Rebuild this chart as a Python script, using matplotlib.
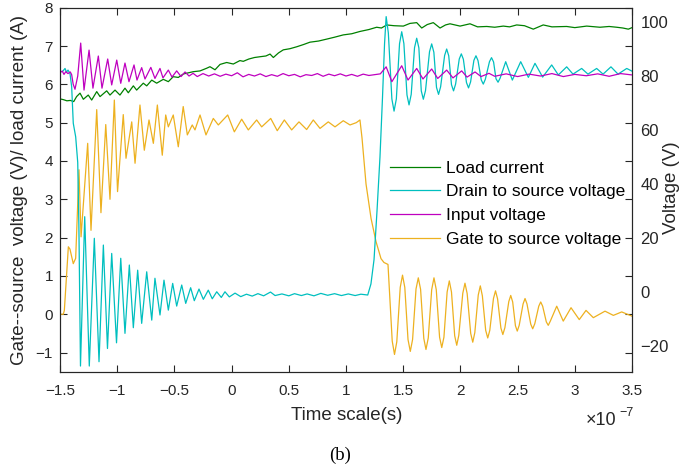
import numpy as np
import matplotlib
matplotlib.use('Agg')
import matplotlib.pyplot as plt

# time is in units of 1e-7 s
# load current (A), left axis
load_current = [
    (-1.500, 5.62), (-1.470, 5.60), (-1.440, 5.57), (-1.410, 5.58), (-1.380, 5.55),
    (-1.355, 5.68), (-1.325, 5.77), (-1.296, 5.61), (-1.253, 5.72), (-1.223, 5.59),
    (-1.179, 5.81), (-1.150, 5.68), (-1.092, 5.83), (-1.063, 5.72), (-1.019, 5.85),
    (-0.976, 5.72), (-0.932, 5.90), (-0.903, 5.78), (-0.859, 5.96), (-0.830, 5.85),
    (-0.772, 6.03), (-0.742, 5.96), (-0.698, 6.11), (-0.655, 6.03), (-0.597, 6.13),
    (-0.553, 6.07), (-0.510, 6.20), (-0.466, 6.18), (-0.422, 6.27), (-0.335, 6.33),
    (-0.276, 6.35), (-0.218, 6.42), (-0.189, 6.46), (-0.145, 6.38), (-0.101, 6.52),
    (-0.043, 6.57), (0.015, 6.53), (0.073, 6.62), (0.102, 6.60), (0.150, 6.66),
    (0.200, 6.70), (0.248, 6.72), (0.300, 6.74), (0.336, 6.79), (0.365, 6.70),
    (0.410, 6.82), (0.452, 6.90), (0.510, 6.93), (0.569, 6.98), (0.630, 7.04),
    (0.685, 7.10), (0.760, 7.13), (0.831, 7.18), (0.900, 7.23), (0.976, 7.29),
    (1.050, 7.32), (1.122, 7.38), (1.200, 7.43), (1.268, 7.49), (1.310, 7.47),
    (1.356, 7.55), (1.420, 7.53), (1.501, 7.52), (1.559, 7.59), (1.618, 7.61),
    (1.662, 7.47), (1.710, 7.56), (1.763, 7.61), (1.822, 7.47), (1.870, 7.55),
    (1.909, 7.58), (1.997, 7.52), (2.084, 7.58), (2.150, 7.50), (2.230, 7.51),
    (2.300, 7.49), (2.375, 7.52), (2.430, 7.50), (2.492, 7.55), (2.560, 7.53),
    (2.637, 7.44), (2.724, 7.55), (2.800, 7.50), (2.929, 7.51), (3.000, 7.48),
    (3.104, 7.52), (3.220, 7.49), (3.300, 7.51), (3.366, 7.49), (3.420, 7.47),
    (3.468, 7.44), (3.500, 7.48),
]

# drain to source voltage (V), right axis
drain_voltage = [
    (-1.500, 81.5), (-1.475, 81.8), (-1.456, 82.8), (-1.443, 81.4), (-1.430, 82.2),
    (-1.413, 81.0), (-1.398, 76.0), (-1.384, 62.5), (-1.363, 57.5), (-1.345, 48.0),
    (-1.335, 25.0), (-1.321, -27.4), (-1.284, 27.9), (-1.244, -27.4), (-1.200, 19.9),
    (-1.159, -25.8), (-1.121, 17.4), (-1.085, -20.9), (-1.048, 14.3), (-1.006, -18.8),
    (-0.969, 12.5), (-0.932, -15.3), (-0.894, 10.0), (-0.859, -13.2), (-0.821, 8.1),
    (-0.786, -11.6), (-0.742, 7.5), (-0.698, -10.4), (-0.670, 5.1), (-0.626, -8.5),
    (-0.591, 4.4), (-0.553, -6.7), (-0.515, 3.2), (-0.480, -5.2), (-0.436, 2.6),
    (-0.401, -4.2), (-0.358, 1.6), (-0.326, -3.2), (-0.285, 1.1), (-0.247, -2.7),
    (-0.204, 0.7), (-0.169, -2.5), (-0.130, 0.1), (-0.090, -2.0), (-0.058, 0.1),
    (-0.020, -1.8), (0.030, -0.4), (0.080, -1.7), (0.130, -0.8), (0.180, -1.5),
    (0.230, -0.6), (0.280, -1.4), (0.340, 0.0), (0.380, -1.3), (0.440, -0.7),
    (0.500, -1.4), (0.550, -0.6), (0.610, -1.3), (0.660, -0.7), (0.720, -1.4),
    (0.780, -0.5), (0.840, -1.2), (0.900, -0.6), (0.960, -1.3), (1.020, -0.7),
    (1.080, -1.3), (1.130, -0.8), (1.190, -1.1), (1.218, 3.0), (1.245, 12.0),
    (1.271, 30.0), (1.297, 50.0), (1.319, 72.0), (1.337, 92.0), (1.351, 102.0),
    (1.370, 96.0), (1.401, 71.5), (1.420, 67.0), (1.440, 71.5), (1.468, 92.0),
    (1.487, 96.4), (1.506, 92.0), (1.533, 73.0), (1.551, 69.3), (1.570, 73.2),
    (1.599, 90.5), (1.618, 94.0), (1.637, 90.4), (1.658, 74.5), (1.676, 71.4),
    (1.695, 74.6), (1.730, 89.0), (1.749, 91.9), (1.768, 88.8), (1.791, 75.8),
    (1.809, 73.2), (1.827, 76.0), (1.862, 87.6), (1.880, 90.0), (1.898, 87.5),
    (1.922, 76.8), (1.940, 74.5), (1.958, 77.0), (1.990, 86.3), (2.008, 88.2),
    (2.026, 86.2), (2.053, 77.6), (2.071, 75.6), (2.089, 77.8), (2.118, 85.8),
    (2.136, 87.5), (2.154, 85.7), (2.182, 78.6), (2.200, 77.0), (2.218, 78.8),
    (2.254, 85.3), (2.272, 86.8), (2.290, 85.2), (2.311, 79.0), (2.329, 77.7),
    (2.347, 79.2), (2.396, 85.3), (2.454, 78.5), (2.527, 85.3), (2.594, 79.5),
    (2.652, 84.7), (2.719, 79.6), (2.798, 84.1), (2.856, 80.4), (2.929, 83.4),
    (2.984, 80.7), (3.060, 82.8), (3.115, 80.7), (3.191, 82.8), (3.247, 80.7),
    (3.316, 83.4), (3.378, 80.7), (3.454, 82.8), (3.500, 81.8),
]

# input voltage (V), right axis
input_voltage = [
    (-1.500, 81.3), (-1.480, 81.8), (-1.465, 80.6), (-1.450, 81.6), (-1.430, 80.9),
    (-1.410, 81.5), (-1.398, 80.5), (-1.385, 77.0), (-1.369, 75.1), (-1.345, 80.0),
    (-1.319, 92.2), (-1.290, 74.8), (-1.246, 89.6), (-1.212, 75.5), (-1.165, 87.4),
    (-1.133, 75.5), (-1.083, 86.3), (-1.048, 76.7), (-1.004, 85.9), (-0.969, 77.3),
    (-0.932, 84.8), (-0.897, 77.9), (-0.853, 84.1), (-0.827, 78.5), (-0.786, 83.1),
    (-0.757, 78.9), (-0.706, 83.2), (-0.670, 79.1), (-0.626, 82.8), (-0.600, 79.3),
    (-0.553, 82.2), (-0.521, 79.6), (-0.480, 81.9), (-0.442, 79.8), (-0.407, 81.5),
    (-0.372, 80.0), (-0.337, 81.0), (-0.300, 79.8), (-0.250, 80.9), (-0.200, 80.0),
    (-0.150, 80.8), (-0.100, 79.9), (-0.050, 80.7), (0.000, 80.1), (0.050, 81.2),
    (0.100, 79.7), (0.150, 80.6), (0.200, 80.0), (0.250, 80.8), (0.300, 79.8),
    (0.350, 80.5), (0.400, 79.9), (0.450, 80.9), (0.500, 80.1), (0.550, 80.6),
    (0.600, 79.7), (0.650, 80.5), (0.700, 80.2), (0.750, 80.9), (0.800, 79.9),
    (0.850, 80.7), (0.900, 80.1), (0.950, 80.8), (1.000, 80.0), (1.050, 80.6),
    (1.100, 79.9), (1.150, 80.7), (1.200, 80.2), (1.250, 80.5), (1.300, 80.8),
    (1.351, 83.4), (1.401, 77.9), (1.487, 83.8), (1.542, 78.5), (1.618, 82.8),
    (1.673, 78.9), (1.749, 82.6), (1.802, 79.1), (1.880, 82.2), (1.935, 79.3),
    (2.011, 81.9), (2.058, 79.6), (2.128, 81.5), (2.180, 79.8), (2.250, 81.0),
    (2.300, 79.9), (2.400, 80.8), (2.500, 79.8), (2.600, 80.7), (2.700, 80.0),
    (2.800, 80.9), (2.900, 79.8), (3.000, 80.6), (3.100, 80.1), (3.200, 80.8),
    (3.300, 79.9), (3.400, 80.9), (3.500, 80.4),
]

# gate to source voltage (V), left axis
gate_voltage = [
    (-1.500, 0.00), (-1.471, 0.00), (-1.462, 0.10), (-1.427, 1.76), (-1.413, 1.70),
    (-1.384, 1.32), (-1.363, 1.46), (-1.334, 3.77), (-1.316, 2.02), (-1.258, 4.46),
    (-1.229, 2.19), (-1.179, 5.34), (-1.142, 2.65), (-1.100, 4.95), (-1.063, 3.00),
    (-1.025, 5.59), (-0.997, 3.20), (-0.947, 5.21), (-0.923, 4.07), (-0.873, 5.02),
    (-0.844, 3.94), (-0.801, 5.46), (-0.763, 4.28), (-0.722, 5.07), (-0.684, 4.46),
    (-0.649, 5.46), (-0.606, 4.15), (-0.576, 5.20), (-0.553, 4.89), (-0.510, 5.20),
    (-0.466, 4.37), (-0.423, 5.42), (-0.387, 4.68), (-0.344, 4.94), (-0.320, 4.81),
    (-0.276, 5.20), (-0.224, 4.68), (-0.160, 5.11), (-0.116, 4.94), (-0.034, 5.20),
    (0.024, 4.76), (0.088, 5.09), (0.146, 4.81), (0.219, 5.07), (0.263, 4.89),
    (0.342, 5.11), (0.399, 4.79), (0.461, 5.07), (0.525, 4.81), (0.589, 5.02),
    (0.656, 4.82), (0.714, 5.07), (0.773, 4.85), (0.845, 5.02), (0.904, 4.89),
    (0.976, 5.05), (1.035, 4.94), (1.090, 5.00), (1.122, 5.07), (1.140, 4.60),
    (1.175, 3.40), (1.219, 2.50), (1.262, 1.90), (1.306, 1.45), (1.332, 1.35),
    (1.367, 1.30), (1.404, -0.70), (1.424, -1.05), (1.444, -0.72), (1.474, 0.70),
    (1.494, 1.02), (1.514, 0.70), (1.542, -0.66), (1.562, -0.97), (1.582, -0.66),
    (1.612, 0.66), (1.632, 0.95), (1.652, 0.65), (1.680, -0.63), (1.699, -0.92),
    (1.719, -0.62), (1.749, 0.64), (1.769, 0.95), (1.789, 0.64), (1.818, -0.60),
    (1.837, -0.87), (1.856, -0.60), (1.884, 0.58), (1.903, 0.87), (1.922, 0.58),
    (1.950, -0.56), (1.968, -0.81), (1.986, -0.55), (2.021, 0.55), (2.040, 0.81),
    (2.059, 0.54), (2.090, -0.50), (2.108, -0.73), (2.126, -0.48), (2.156, 0.50),
    (2.174, 0.74), (2.192, 0.48), (2.221, -0.42), (2.239, -0.62), (2.257, -0.42),
    (2.289, 0.41), (2.307, 0.61), (2.325, 0.40), (2.354, -0.36), (2.371, -0.53),
    (2.389, -0.35), (2.423, 0.33), (2.440, 0.49), (2.457, 0.32), (2.481, -0.30),
    (2.497, -0.44), (2.514, -0.29), (2.548, 0.27), (2.565, 0.41), (2.582, 0.27),
    (2.615, -0.26), (2.632, -0.38), (2.650, -0.25), (2.685, 0.21), (2.702, 0.32),
    (2.719, 0.21), (2.751, -0.20), (2.768, -0.29), (2.786, -0.18), (2.842, 0.21),
    (2.899, -0.18), (2.967, 0.17), (3.039, -0.14), (3.098, 0.10), (3.162, -0.09),
    (3.264, 0.08), (3.337, -0.03), (3.410, 0.06), (3.500, -0.05),
]

series_labels = ['Load current', 'Drain to source voltage', 'Input voltage',
                 'Gate to source voltage']
series_colors = ['#008000', '#00BFBF', '#BF00BF', '#EDB120']

x_ticks = [-1.5, -1, -0.5, 0, 0.5, 1, 1.5, 2, 2.5, 3, 3.5]
x_ticklabels = ['-1.5', '-1', '-0.5', '0', '0.5', '1', '1.5', '2', '2.5', '3', '3.5']
left_ticks = [-1, 0, 1, 2, 3, 4, 5, 6, 7, 8]
right_ticks = [-20, 0, 20, 40, 60, 80, 100]

TXT = '#262626'
plt.rcParams['font.family'] = ['Liberation Sans', 'DejaVu Sans']

W, H = 697, 470
fig = plt.figure(figsize=(W / 100, H / 100), dpi=100)
ax = fig.add_axes([60 / W, 1 - 371.7 / H, 572 / W, 364 / H])
ax2 = ax.twinx()

t_l, v_l = np.array(load_current).T
t_d, v_d = np.array(drain_voltage).T
t_i, v_i = np.array(input_voltage).T
t_g, v_g = np.array(gate_voltage).T

h_load, = ax.plot(t_l, v_l, color=series_colors[0], lw=0.9)
h_gate, = ax.plot(t_g, v_g, color=series_colors[3], lw=0.9)
h_drain, = ax2.plot(t_d, v_d, color=series_colors[1], lw=0.9)
h_input, = ax2.plot(t_i, v_i, color=series_colors[2], lw=0.9)

ax.set_xlim(-1.5, 3.5)
ax.set_ylim(-1.5, 8)
ax2.set_ylim(-29.5, 105.3)

ax.set_xticks(x_ticks)
ax.set_xticklabels([s.replace('-', '\u2212') for s in x_ticklabels])
ax.set_yticks(left_ticks)
ax.set_yticklabels([str(v).replace('-', '\u2212') for v in left_ticks])
ax2.set_yticks(right_ticks)
ax2.set_yticklabels([str(v).replace('-', '\u2212') for v in right_ticks])

ax.tick_params(direction='in', length=5, width=0.8, top=True, right=True,
               labelsize=11, colors=TXT)
ax.tick_params(axis='x', pad=9)
ax.tick_params(axis='y', pad=5)
ax2.tick_params(axis='y', length=0, labelsize=12, colors=TXT, pad=6)
for a in (ax, ax2):
    for sp in a.spines.values():
        sp.set_color(TXT)
        sp.set_linewidth(0.8)

fig.text(20 / W, 1 - 190 / H, 'Gate--source  voltage (V)/ load current (A)',
         rotation=90, ha='center', va='center', fontsize=13.5, color=TXT)
fig.text(672 / W, 1 - 188 / H, 'Voltage (V)', rotation=90,
         ha='center', va='center', fontsize=13.5, color=TXT)
fig.text(347 / W, 1 - 415 / H, 'Time scale(s)', ha='center', va='center',
         fontsize=13.5, color=TXT)
fig.text(586 / W, 1 - 425 / H, '\u00d710', ha='left', va='baseline',
         fontsize=13, color=TXT)
fig.text(619 / W, 1 - 416.5 / H, '\u22127', ha='left', va='baseline',
         fontsize=9, color=TXT)
fig.text(340 / W, 1 - 455 / H, '(b)', ha='center', va='center', fontsize=13.5,
         family=['Liberation Serif', 'DejaVu Serif'], color='black')

ax2.legend([h_load, h_drain, h_input, h_gate], series_labels,
           loc='upper left', bbox_to_anchor=(0.577, 0.58), frameon=False,
           fontsize=12.5, handlelength=2.9, handletextpad=0.35, labelspacing=0.49,
           borderaxespad=0, borderpad=0)

fig.savefig('out.png', dpi=100)
